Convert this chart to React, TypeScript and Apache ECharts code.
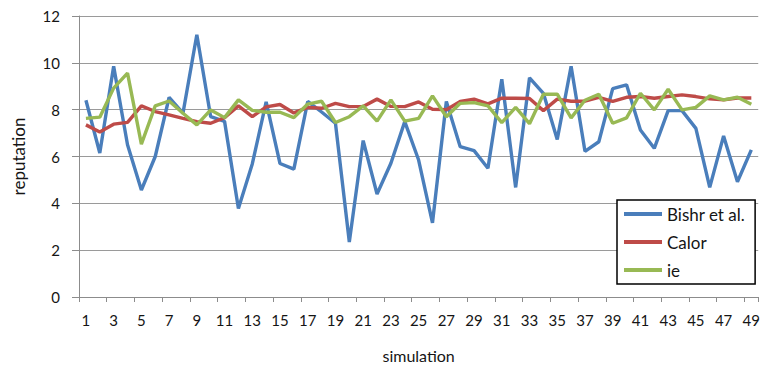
import React, { useEffect, useRef } from "react";
import * as echarts from "echarts";

// Simulation runs 1..49
const simulations: string[] = Array.from({ length: 49 }, (_, i) => String(i + 1));

const bishrEtAl: number[] = [
  8.4, 6.15, 9.85, 6.5, 4.57, 6.0, 8.52, 7.85, 11.2, 7.7,
  7.5, 3.78, 5.68, 8.33, 5.7, 5.46, 8.35, 7.9, 7.42, 2.35,
  6.68, 4.4, 5.71, 7.49, 5.85, 3.17, 8.35, 6.42, 6.25, 5.5,
  9.3, 4.68, 9.36, 8.7, 6.73, 9.85, 6.22, 6.63, 8.9, 9.06,
  7.13, 6.35, 7.96, 7.96, 7.2, 4.68, 6.88, 4.92, 6.28,
];

const calor: number[] = [
  7.35, 7.05, 7.38, 7.46, 8.16, 7.92, 7.78, 7.63, 7.49, 7.42,
  7.66, 8.16, 7.7, 8.12, 8.22, 7.86, 8.1, 8.06, 8.27, 8.13,
  8.14, 8.45, 8.14, 8.13, 8.33, 8.02, 8.0, 8.35, 8.45, 8.25,
  8.49, 8.49, 8.48, 7.96, 8.45, 8.36, 8.36, 8.53, 8.35, 8.53,
  8.56, 8.49, 8.56, 8.63, 8.56, 8.46, 8.42, 8.5, 8.5,
];

const ie: number[] = [
  7.63, 7.68, 8.92, 9.56, 6.53, 8.16, 8.37, 7.85, 7.35, 7.99,
  7.66, 8.42, 7.97, 7.89, 7.89, 7.66, 8.24, 8.36, 7.45, 7.7,
  8.16, 7.51, 8.42, 7.51, 7.63, 8.59, 7.7, 8.27, 8.3, 8.16,
  7.45, 8.1, 7.4, 8.66, 8.66, 7.65, 8.4, 8.66, 7.42, 7.65,
  8.7, 7.99, 8.87, 7.99, 8.1, 8.59, 8.42, 8.53, 8.23,
];

const seriesNames = ["Bishr et al.", "Calor", "ie"];
const seriesColors = ["#4A7EBB", "#BE4B48", "#98B954"];

const FONT = "Lato, 'Noto Sans', sans-serif";
const TEXT = "#151515";

export default function App() {
  const ref = useRef<HTMLDivElement>(null);

  useEffect(() => {
    document.body.style.margin = "0";
    if (!ref.current) return;
    const chart = echarts.init(ref.current, undefined, { renderer: "svg" });
    const values = [bishrEtAl, calor, ie];

    chart.setOption({
      animation: false,
      backgroundColor: "#ffffff",
      textStyle: { fontFamily: FONT },
      grid: { left: 79, right: 3, top: 16, bottom: 72, containLabel: false },
      legend: {
        orient: "vertical",
        left: 617,
        top: 200,
        data: seriesNames,
        icon: "rect",
        itemWidth: 38,
        itemHeight: 4,
        itemGap: 10,
        padding: [5, 10, 5, 7],
        borderColor: "#000000",
        borderWidth: 1.5,
        backgroundColor: "#ffffff",
        textStyle: { fontFamily: FONT, fontSize: 17, color: TEXT, lineHeight: 18 },
      },
      xAxis: {
        type: "category",
        data: simulations,
        boundaryGap: true,
        name: "simulation",
        nameLocation: "middle",
        nameGap: 50,
        nameTextStyle: { fontFamily: FONT, fontSize: 16, color: TEXT },
        axisLine: { lineStyle: { color: "#8c8c8c", width: 1 } },
        axisTick: { show: true, length: 5, lineStyle: { color: "#8c8c8c" } },
        axisLabel: { interval: 1, margin: 15, fontSize: 15, color: TEXT, fontFamily: FONT },
        splitLine: { show: false },
      },
      yAxis: {
        type: "value",
        min: 0,
        max: 12,
        interval: 2,
        name: "reputation",
        nameLocation: "middle",
        nameGap: 52,
        nameTextStyle: { fontFamily: FONT, fontSize: 17, color: TEXT },
        axisLine: { show: true, lineStyle: { color: "#8c8c8c", width: 1 } },
        axisTick: { show: true, length: 7, lineStyle: { color: "#8c8c8c" } },
        axisLabel: { margin: 19, fontSize: 15, color: TEXT, fontFamily: FONT },
        splitLine: { show: true, lineStyle: { color: "#9a9a9a", width: 1 } },
      },
      series: seriesNames.map((name, k) => ({
        name,
        type: "line",
        data: values[k],
        symbol: "none",
        lineStyle: { color: seriesColors[k], width: 3.4 },
        itemStyle: { color: seriesColors[k] },
      })),
    });

    return () => chart.dispose();
  }, []);

  return <div ref={ref} style={{ width: 763, height: 369 }} />;
}
